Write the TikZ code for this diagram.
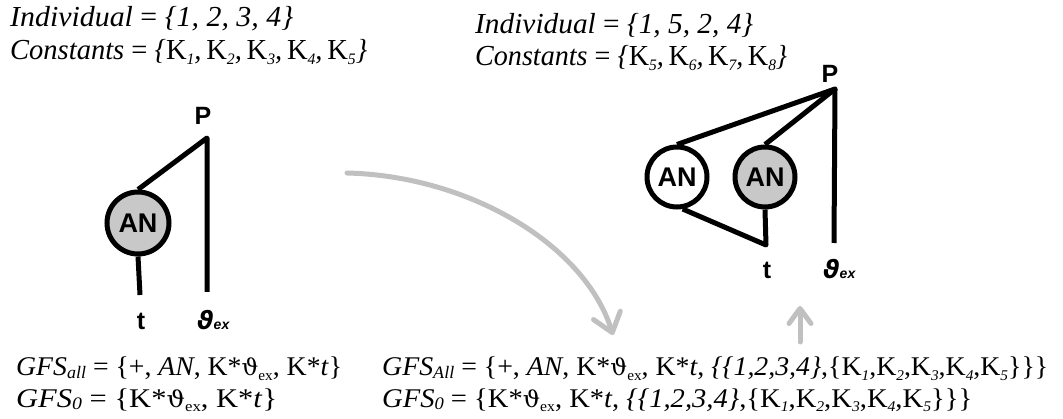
\documentclass[tikz,border=0pt]{standalone}
\usepackage{graphicx}
\usepackage{fontspec}
\setmainfont{Liberation Serif}
\newfontfamily\lsans{Liberation Sans}
\newfontfamily\dvsans{DejaVu Sans}
\newfontfamily\dvserif{DejaVu Serif}
\usetikzlibrary{arrows.meta}
\definecolor{cfill}{RGB}{200,200,200}
\definecolor{carrow}{RGB}{192,192,192}
\newcommand{\mysub}[1]{\raisebox{-0.15em}{\scalebox{0.55}{#1}}}
\newcommand{\gsub}[1]{\raisebox{-0.1em}{\scalebox{0.65}{#1}}}
\newcommand{\Kk}[1]{\textup{K}\mysub{\itshape #1}}
\newcommand{\thx}{\textup{{\dvserif\scalebox{0.85}{ϑ}}\mysub{ex}}}
\newcommand{\thlab}{{\dvsans\bfseries\itshape ϑ}{\lsans\bfseries\itshape\fontsize{14}{14}\selectfont ex}}
\newcommand{\fitw}[2]{\resizebox{#1}{\height}{#2}}
\tikzset{
  txt/.style={inner sep=0pt, anchor=base west, font=\fontsize{29}{33}\selectfont},
  btxt/.style={inner sep=0pt, anchor=base west, font=\fontsize{27}{31}\selectfont},
  lab/.style={inner sep=0pt, font=\lsans\bfseries\fontsize{25}{25}\selectfont},
  an/.style={circle, draw, line width=5pt, minimum size=62pt, inner sep=0pt, font=\lsans\bfseries\fontsize{27}{27}\selectfont},
  tree/.style={line width=5pt, line join=round},
  garrow/.style={draw=carrow, line width=5pt, line cap=round, -{Straight Barb[length=18pt, width=28pt, line cap=round, line join=round]}}
}
\begin{document}
\begin{tikzpicture}[x=1pt, y=-1pt]
\useasboundingbox (0,0) rectangle (1063,419);
% top texts
\node[txt] (ind1) at (10,27) {\fitw{283pt}{\itshape Individual \textup{=} \{1, 2, 3, 4\}}};
\node[txt] (con1) at (10,60) {\fitw{357pt}{\itshape Constants \textup{=} \{\Kk{1},\,\Kk{2},\,\Kk{3},\,\Kk{4},\,\Kk{5}\}}};
\node[txt] (ind2) at (475,34) {\fitw{278pt}{\itshape Individual \textup{=} \{1, 5, 2, 4\}}};
\node[txt] (con2) at (475,66) {\fitw{312pt}{\itshape Constants \textup{=} \{\Kk{5},\,\Kk{6},\,\Kk{7},\,\Kk{8}\}}};
% left tree
\node[an, fill=cfill] (anL) at (138,223) {AN};
\coordinate (jL) at (207,138);
\coordinate (vL) at (207,292);
\coordinate (tLe) at (140,295);
\draw[tree] (anL.north) -- (jL) -- (vL);
\draw[tree] (anL.south) -- (tLe);
\node[lab, anchor=base] (PL) at (203,125) {P};
\node[lab, anchor=base] (tL) at (141,330) {t};
\node[lab, anchor=base west] (thL) at (197,330) {\thlab};
% right tree
\node[an, fill=white, minimum size=60pt] (anA) at (677,177) {AN};
\node[an, fill=cfill, minimum size=60pt] (anB) at (765,177) {AN};
\coordinate (jR) at (835,89);
\coordinate (vR) at (834,243);
\coordinate (tRe) at (766,245);
\draw[tree] (anA.north) -- (jR) -- (anB.north);
\draw[tree] (jR) -- (vR);
\draw[tree] (anA.-80) -- (tRe) -- (anB.south);
\node[lab, anchor=base] (PR) at (830,83) {P};
\node[lab, anchor=base] (tR) at (767,279) {t};
\node[lab, anchor=base west] (thR) at (823,279) {\thlab};
% arrows
\coordinate (arS) at (347,173);
\coordinate (arE) at (613,335);
\draw[garrow] (arS) .. controls (470,176) and (585,245) .. (arE);
\coordinate (upS) at (800,342);
\coordinate (upE) at (800,306);
\draw[garrow, -{Straight Barb[length=15pt, width=22pt, line cap=round, line join=round]}] (upS) -- (upE);
% bottom texts
\node[btxt] (gfsA1) at (16,376) {\fitw{326pt}{\textit{GFS}\gsub{\itshape all} = \{+, \textit{AN}, K*\thx, K*\textit{t}\}}};
\node[btxt] (gfs01) at (16,407) {\fitw{261pt}{\textit{GFS}\gsub{\itshape 0} = \{K*\thx, K*\textit{t}\}}};
\node[btxt] (gfsA2) at (382,376) {\fitw{666pt}{\textit{GFS}\gsub{\itshape All} = \{+, \textit{AN}, K*\thx, K*\textit{t}, \textit{\{\{1,2,3,4\}},\{\Kk{1},\Kk{2},\Kk{3},\Kk{4},\Kk{5}\}\}\}}};
\node[btxt] (gfs02) at (382,407) {\fitw{590pt}{\textit{GFS}\gsub{\itshape 0} = \{K*\thx, K*\textit{t}, \textit{\{\{1,2,3,4\}},\{\Kk{1},\Kk{2},\Kk{3},\Kk{4},\Kk{5}\}\}\}}};
\end{tikzpicture}
\end{document}
